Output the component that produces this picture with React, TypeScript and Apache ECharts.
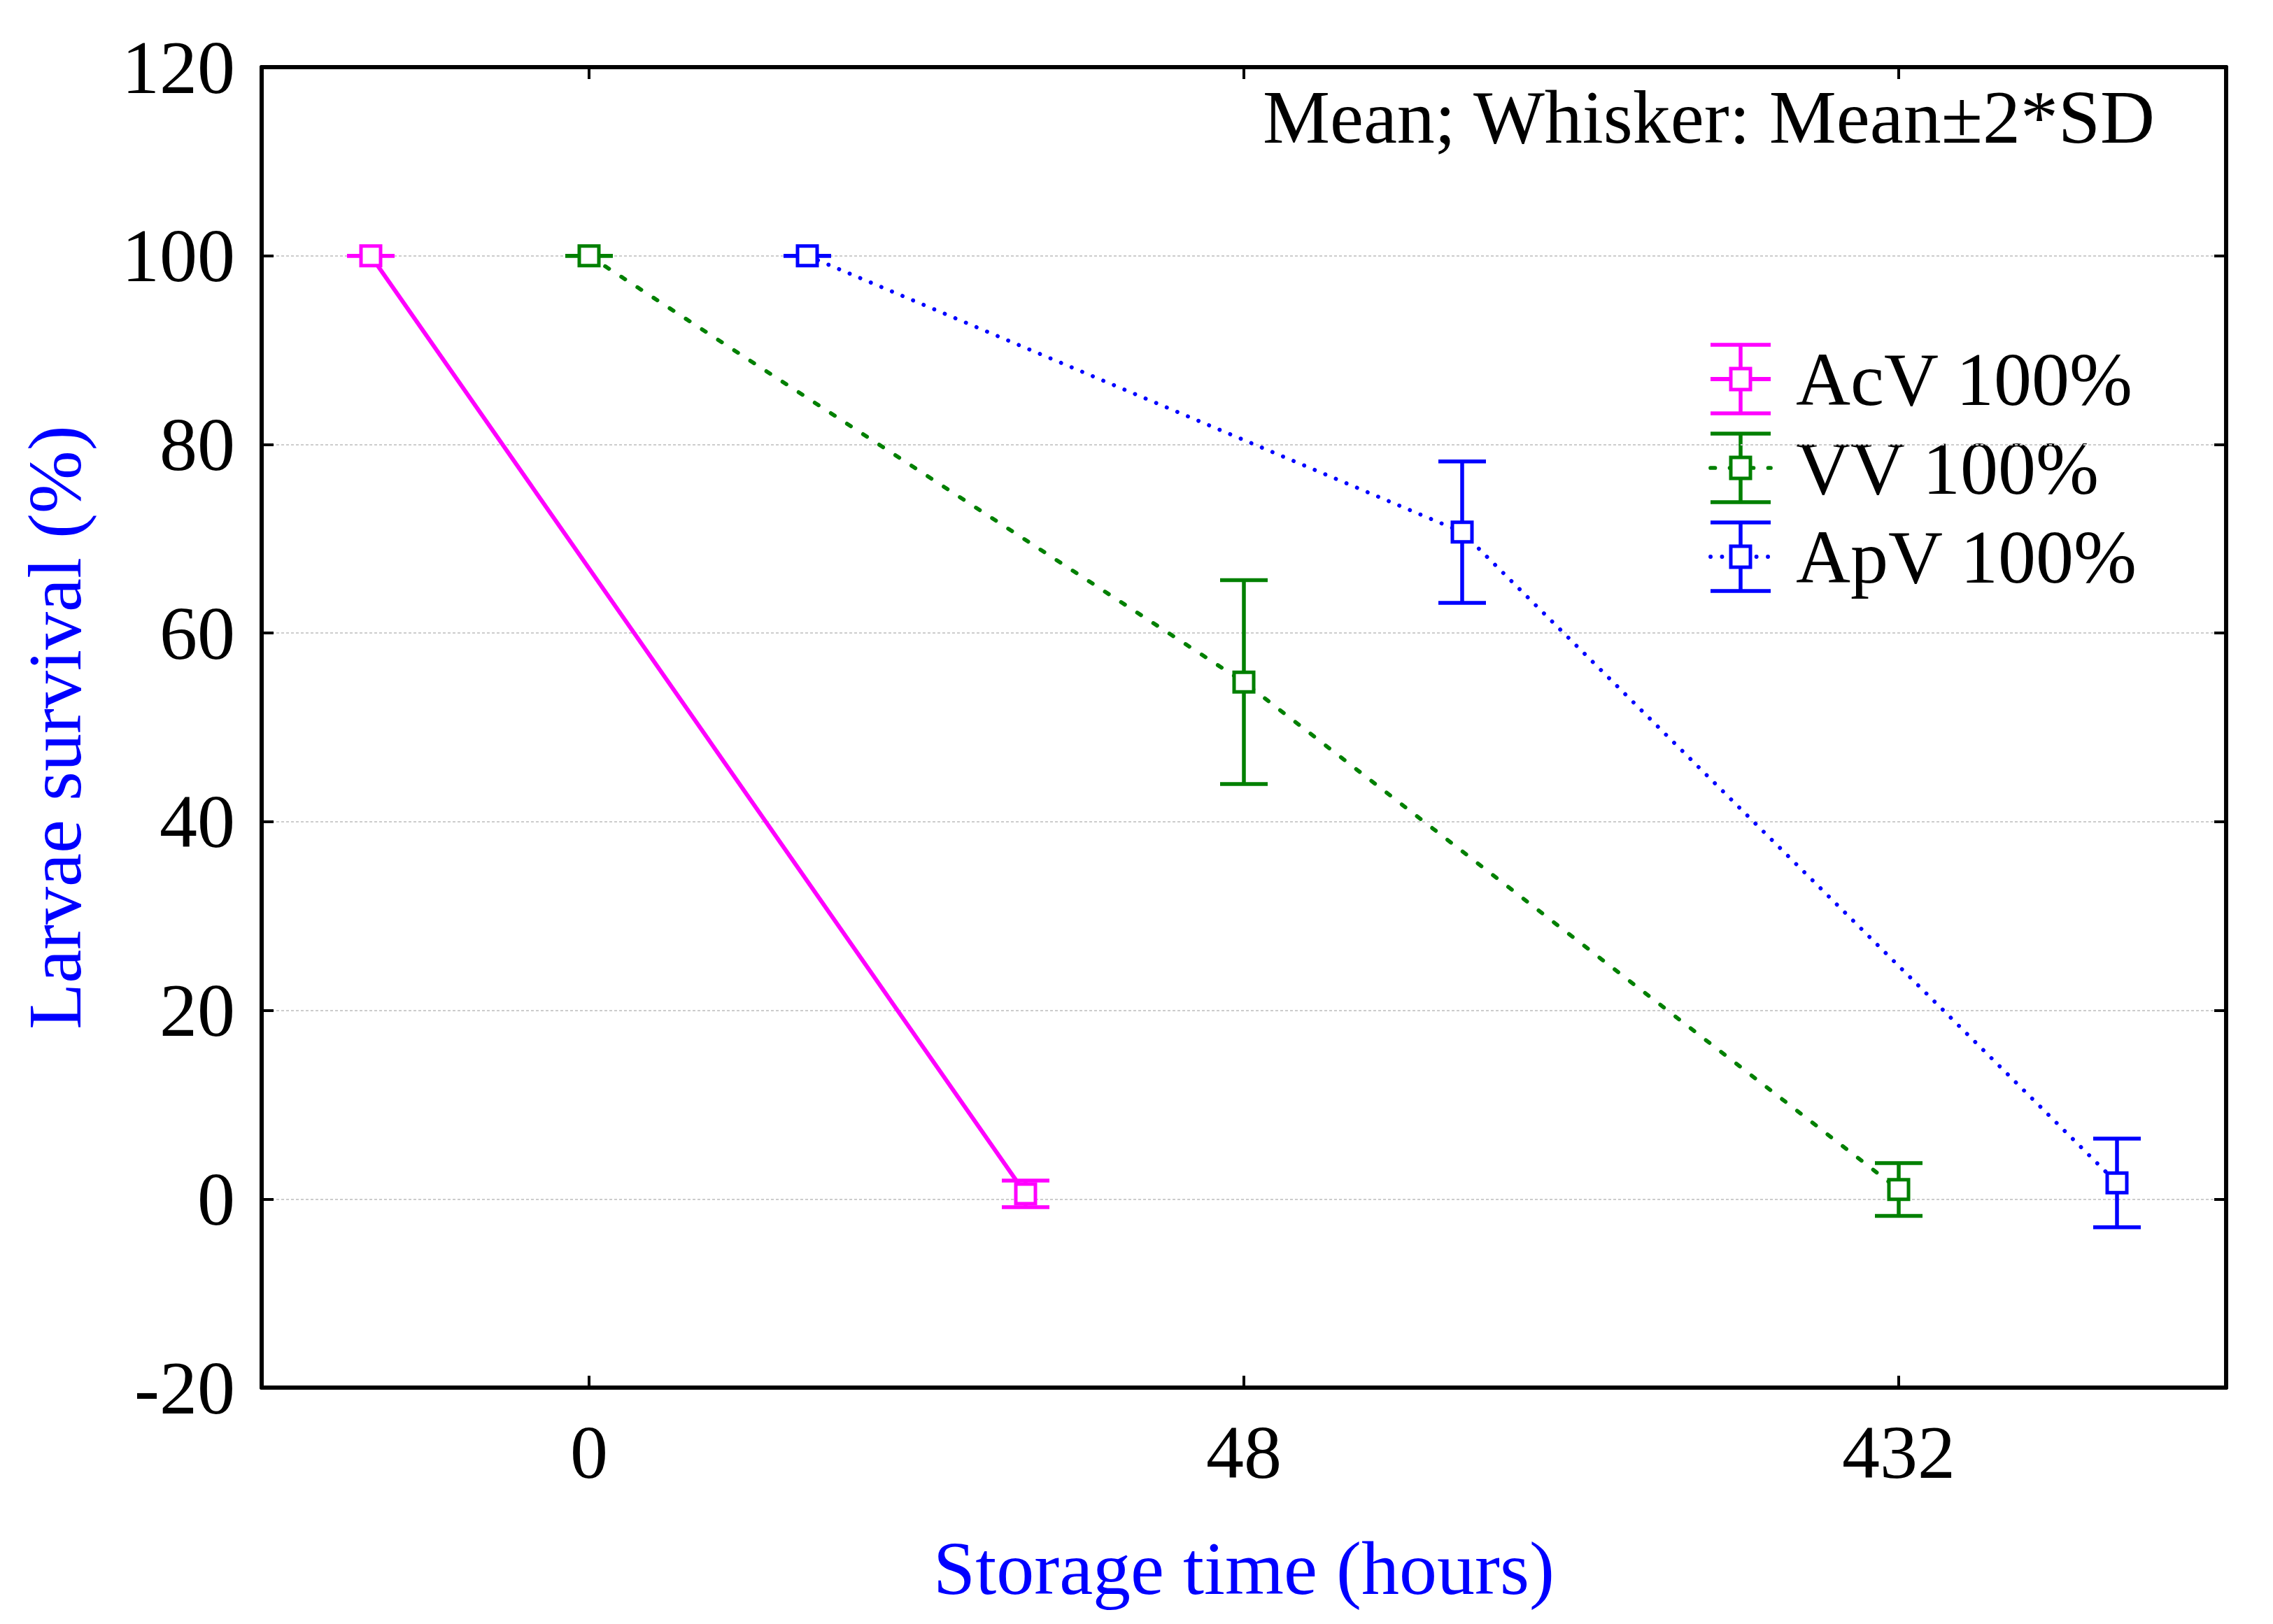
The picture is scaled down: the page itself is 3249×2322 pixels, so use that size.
import React, { useEffect, useRef } from "react";
import * as echarts from "echarts";

const categories = ["0", "48", "432"];
const yTicks = { min: -20, max: 120, interval: 20 };

const seriesNames = ["AcV 100%", "VV 100%", "ApV 100%"];
const seriesColors = ["#FF00FF", "#008000", "#0000FF"];
const seriesOffsets = [-1 / 3, 0, 1 / 3];

const acvMean = [100, 0.54];
const acvWhisker = [0, 1.4];
const vvMean = [100, 54.8, 1.0];
const vvWhisker = [0, 10.8, 2.8];
const apvMean = [100, 70.7, 1.7];
const apvWhisker = [0, 7.5, 4.7];

const annotation = "Mean; Whisker: Mean±2*SD";
const xTitle = "Storage time (hours)";
const yTitle = "Larvae survival (%)";

const FONT = "'Liberation Serif', 'Times New Roman', serif";

const W = 3249;
const H = 2322;
const GRID = { left: 374, right: 67, top: 96, bottom: 338 };

const means = [acvMean, vvMean, apvMean];
const whiskers = [acvWhisker, vvWhisker, apvWhisker];
const lineStyles: any[] = [
  { type: "solid", width: 6, cap: "butt" },
  { type: [6.5, 21], width: 5.7, cap: "round" },
  { type: [0.1, 16.3], width: 5.8, cap: "round" },
];

export default function App() {
  const ref = useRef<HTMLDivElement>(null);
  useEffect(() => {
    if (!ref.current) return;
    const chart = echarts.init(ref.current, null, { renderer: "svg" });

    const series: any[] = [];
    means.forEach((m, si) => {
      const color = seriesColors[si];
      const pts = m.map((v, i) => [i + seriesOffsets[si], v]);
      const bars = m.map((v, i) => [i + seriesOffsets[si], v - whiskers[si][i], v + whiskers[si][i]]);
      series.push({
        type: "custom",
        name: seriesNames[si] + " whisker",
        xAxisIndex: 2,
        yAxisIndex: 0,
        z: 2,
        encode: { x: 0, y: [1, 2] },
        data: bars,
        renderItem: (params: any, api: any) => {
          const x = api.value(0);
          const lo = api.coord([x, api.value(1)]);
          const hi = api.coord([x, api.value(2)]);
          const hw = 34;
          const st = { stroke: color, lineWidth: 5.5 };
          return {
            type: "group",
            children: [
              { type: "line", shape: { x1: lo[0], y1: lo[1], x2: hi[0], y2: hi[1] }, style: st },
              { type: "line", shape: { x1: lo[0] - hw, y1: lo[1], x2: lo[0] + hw, y2: lo[1] }, style: st },
              { type: "line", shape: { x1: hi[0] - hw, y1: hi[1], x2: hi[0] + hw, y2: hi[1] }, style: st },
            ],
          };
        },
      });
      series.push({
        type: "line",
        name: seriesNames[si],
        xAxisIndex: 2,
        yAxisIndex: 0,
        z: 3,
        data: pts,
        symbol: "rect",
        symbolSize: 28,
        itemStyle: { color: "#ffffff", borderColor: color, borderWidth: 5, opacity: 1 },
        lineStyle: { color, width: lineStyles[si].width, type: lineStyles[si].type, cap: lineStyles[si].cap },
        emphasis: { disabled: true },
      });
    });

    // legend drawn with graphic elements
    const legendX = 2488;
    const legendY0 = 542;
    const legendDy = 127;
    const legendChildren: any[] = [];
    seriesNames.forEach((name, si) => {
      const cy = legendY0 + si * legendDy;
      const color = seriesColors[si];
      const st = { stroke: color, lineWidth: 5.5 };
      legendChildren.push(
        { type: "line", shape: { x1: legendX, y1: cy - 49, x2: legendX, y2: cy + 49 }, style: st },
        { type: "line", shape: { x1: legendX - 43, y1: cy - 49, x2: legendX + 43, y2: cy - 49 }, style: st },
        { type: "line", shape: { x1: legendX - 43, y1: cy + 49, x2: legendX + 43, y2: cy + 49 }, style: st },
        {
          type: "line",
          shape: { x1: legendX - 43, y1: cy, x2: legendX + 43, y2: cy },
          style: {
            stroke: color,
            lineWidth: lineStyles[si].width,
            lineDash: lineStyles[si].type === "solid" ? null : lineStyles[si].type,
            lineCap: lineStyles[si].cap,
          },
        },
        {
          type: "rect",
          shape: { x: legendX - 14, y: cy - 15, width: 28, height: 30 },
          style: { fill: "#ffffff", stroke: color, lineWidth: 5 },
        },
        {
          type: "text",
          x: 2567,
          y: cy,
          style: { text: name, fontSize: 108, fontFamily: FONT, fill: "#000", verticalAlign: "middle", align: "left" },
        }
      );
    });

    const axisLine = { show: true, onZero: false, lineStyle: { color: "#000", width: 6 } };
    const tick = { show: true, inside: true, length: 17, lineStyle: { color: "#000", width: 4 } };

    chart.setOption({
      animation: false,
      backgroundColor: "#ffffff",
      grid: { ...GRID, containLabel: false },
      xAxis: [
        {
          type: "category",
          data: categories,
          position: "bottom",
          boundaryGap: true,
          axisLine,
          axisTick: { ...tick, alignWithLabel: true },
          axisLabel: { fontSize: 108, fontFamily: FONT, color: "#000", margin: 38 },
          splitLine: { show: false },
          name: xTitle,
          nameLocation: "middle",
          nameGap: 204,
          nameTextStyle: { fontSize: 108, fontFamily: FONT, color: "#0000FF" },
        },
        {
          type: "category",
          data: categories,
          position: "top",
          boundaryGap: true,
          axisLine,
          axisTick: { ...tick, alignWithLabel: true },
          axisLabel: { show: false },
          splitLine: { show: false },
        },
        { type: "value", min: -0.5, max: 2.5, show: false },
      ],
      yAxis: [
        {
          type: "value",
          position: "left",
          min: yTicks.min,
          max: yTicks.max,
          interval: yTicks.interval,
          axisLine,
          axisTick: tick,
          axisLabel: { fontSize: 108, fontFamily: FONT, color: "#000", margin: 38 },
          splitLine: { show: true, lineStyle: { color: "#cccccc", width: 2, type: [4, 3] } },
          name: yTitle,
          nameLocation: "middle",
          nameGap: 242,
          nameRotate: 90,
          nameTextStyle: { fontSize: 108, fontFamily: FONT, color: "#0000FF" },
        },
        {
          type: "value",
          position: "right",
          min: yTicks.min,
          max: yTicks.max,
          interval: yTicks.interval,
          axisLine,
          axisTick: tick,
          axisLabel: { show: false },
          splitLine: { show: false },
        },
      ],
      series,
      graphic: [
        {
          type: "text",
          x: 3080,
          y: 167,
          style: { text: annotation, fontSize: 108, fontFamily: FONT, fill: "#000", align: "right", verticalAlign: "middle" },
        },
        { type: "group", children: legendChildren },
      ],
    });
    return () => chart.dispose();
  }, []);
  return <div ref={ref} style={{ position: "fixed", left: 0, top: 0, width: W, height: H, background: "#fff" }} />;
}
